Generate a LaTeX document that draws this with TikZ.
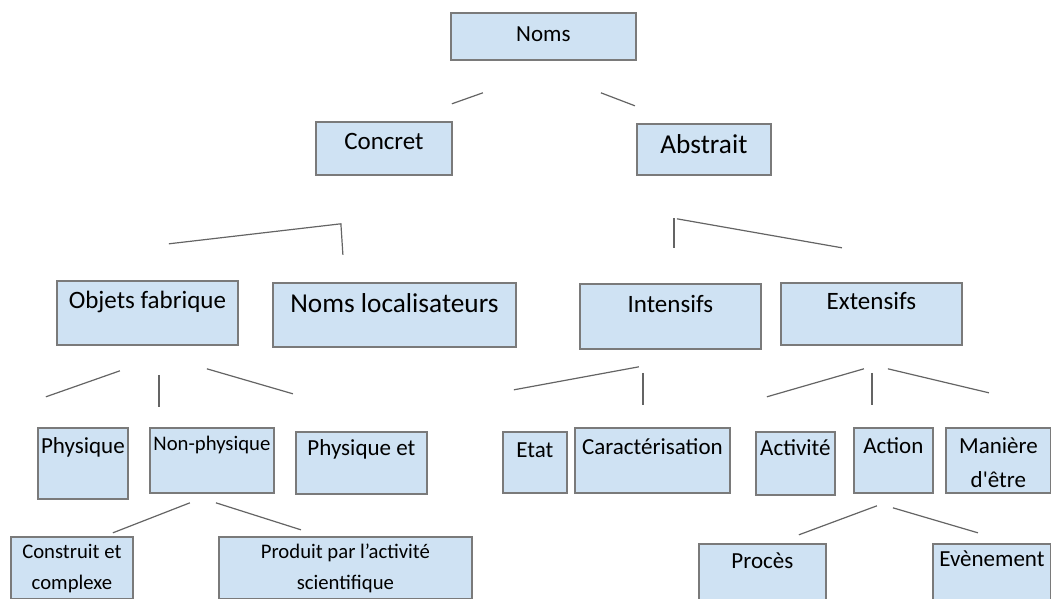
\documentclass[tikz,border=0pt]{standalone}
\usepackage{fontspec}
\setmainfont{Carlito}
\definecolor{cellfill}{RGB}{207,226,243}
\definecolor{cellline}{RGB}{122,122,122}
\definecolor{linkline}{RGB}{100,100,100}
% box text: width, height, first baseline, text
\newcommand{\celltext}[4]{\parbox[t][#2pt][t]{#1pt}{\centering\rule{0pt}{#3pt}#4}}

\begin{document}
\begin{tikzpicture}[x=1pt,y=-1pt,
    cell/.style={draw=cellline,fill=cellfill,line width=1.8pt,inner sep=0pt,anchor=north west},
    link/.style={draw=linkline,line width=1.2pt},
    txtsmall/.style={font=\fontsize{20.7}{31}\selectfont},
    txtmid/.style={font=\fontsize{23}{34}\selectfont},
    txtbig/.style={font=\fontsize{25}{30}\selectfont},
    txthuge/.style={font=\fontsize{27.3}{32}\selectfont}]
    \useasboundingbox (0,0) rectangle (1051,598);

    % level 1 and 2
    \node[cell,txtmid] (noms) at (450,12) {\celltext{185}{47}{29}{Noms}};
    \node[cell,txtbig] (concret) at (315,121) {\celltext{136}{53}{28}{Concret}};
    \node[cell,txthuge] (abstrait) at (636,123) {\celltext{134}{51}{30}{Abstrait}};

    % level 3
    \node[cell,txtbig] (objets) at (56,280) {\celltext{181}{64}{28}{Objets fabrique}};
    \node[cell,txthuge] (localis) at (272,282) {\celltext{243}{64}{30}{Noms localisateurs}};
    \node[cell,txtbig] (intens) at (579,283) {\celltext{181}{65}{29}{Intensifs}};
    \node[cell,txtbig] (extens) at (780,282) {\celltext{181}{62}{27}{Extensifs}};

    % level 4
    \node[cell,txtmid] (physique) at (37,427) {\celltext{90}{71}{26}{Physique}};
    \node[cell,txtsmall] (nonphys) at (149,427) {\celltext{124}{65}{23}{Non-physique}};
    \node[cell,txtmid] (physet) at (295,431) {\celltext{131}{62}{24}{Physique et}};
    \node[cell,txtmid] (etat) at (502,431) {\celltext{64}{61}{26}{Etat}};
    \node[cell,txtmid] (caract) at (574,427) {\celltext{155}{65}{27}{Caractérisation}};
    \node[cell,txtmid] (activite) at (755,431) {\celltext{79}{63}{24}{Activité}};
    \node[cell,txtmid] (action) at (853,427) {\celltext{79}{65}{26}{Action}};
    \node[cell,txtmid] (maniere) at (945,427) {\celltext{105}{65}{26}{Manière\\d\textquotesingle être}};

    % level 5
    \node[cell,txtsmall] (construit) at (10,536) {\celltext{122}{62}{22}{Construit et\\complexe}};
    \node[cell,txtsmall] (produit) at (218,536) {\celltext{253}{62}{22}{Produit par l’activité\\scientifique}};
    \node[cell,txtmid] (proces) at (698,543) {\celltext{127}{56}{25}{Procès}};
    \node[cell,txtmid] (evenement) at (932,543) {\celltext{118}{56}{23}{Evènement}};

    % branches
    \draw[link] ([shift={(-91.5,43)}]noms.south) -- ([shift={(-60.5,32)}]noms.south);
    \draw[link] ([shift={(57.5,32)}]noms.south) -- ([shift={(91.5,45)}]noms.south);
    \draw[link] ([shift={(-215,68)}]concret.south) -- ([shift={(-43,48)}]concret.south) -- ([shift={(-41,79)}]concret.south);
    \draw[link] ([shift={(-30,72)}]abstrait.south) -- ([shift={(-30,42)}]abstrait.south);
    \draw[link] ([shift={(-27,43)}]abstrait.south) -- ([shift={(138,72)}]abstrait.south);
    \draw[link] ([shift={(-101.5,51)}]objets.south) -- ([shift={(-27.5,25)}]objets.south);
    \draw[link] ([shift={(11.5,29)}]objets.south) -- ([shift={(11.5,61)}]objets.south);
    \draw[link] ([shift={(59.5,23)}]objets.south) -- ([shift={(145.5,48)}]objets.south);
    \draw[link] ([shift={(-156.5,40)}]intens.south) -- ([shift={(-31.5,17)}]intens.south);
    \draw[link] ([shift={(-27.5,23)}]intens.south) -- ([shift={(-27.5,55)}]intens.south);
    \draw[link] ([shift={(-104.5,51)}]extens.south) -- ([shift={(-7.5,23)}]extens.south);
    \draw[link] ([shift={(0.5,27)}]extens.south) -- ([shift={(0.5,59)}]extens.south);
    \draw[link] ([shift={(16.5,23)}]extens.south) -- ([shift={(117.5,47)}]extens.south);
    \draw[link] ([shift={(-99,39)}]nonphys.south) -- ([shift={(-22,9)}]nonphys.south);
    \draw[link] ([shift={(4,9)}]nonphys.south) -- ([shift={(89,36)}]nonphys.south);
    \draw[link] ([shift={(-94.5,41)}]action.south) -- ([shift={(-16.5,12)}]action.south);
    \draw[link] ([shift={(-0.5,14)}]action.south) -- ([shift={(84.5,39)}]action.south);
\end{tikzpicture}
\end{document}
